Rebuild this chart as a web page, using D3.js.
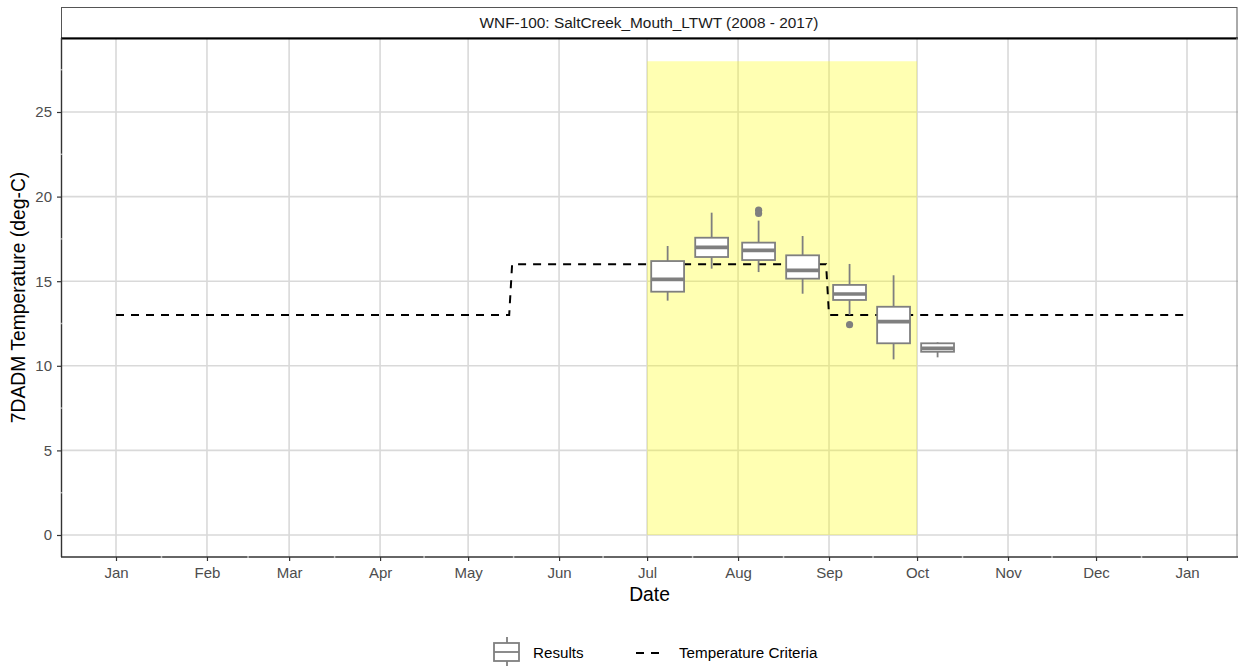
<!DOCTYPE html>
<html>
<head>
<meta charset="utf-8">
<script src="https://cdn.jsdelivr.net/npm/d3@7"></script>
<style>
  body { margin: 0; background: #fff; }
  text { font-family: "Liberation Sans", Arial, sans-serif; }
</style>
</head>
<body>
<div id="chart"></div>
<script>
// box groups (half-month periods), values in deg-C
const boxDates = ["2017-07-08", "2017-07-23", "2017-08-08", "2017-08-23", "2017-09-08", "2017-09-23", "2017-10-08"];
const whiskerLow = [13.85, 15.74, 15.54, 14.26, 13.0, 10.38, 10.5];
const q1 = [14.38, 16.43, 16.25, 15.15, 13.89, 11.33, 10.83];
const median = [15.11, 17.0, 16.82, 15.64, 14.24, 12.61, 11.03];
const q3 = [16.19, 17.57, 17.28, 16.53, 14.78, 13.49, 11.33];
const whiskerHigh = [17.08, 19.05, 18.58, 17.67, 16.02, 15.35, 11.39];
const outliers = [[], [], [19.0, 19.2], [], [12.43], [], []];

// temperature criteria step line
const criteriaDates = ["2017-01-01", "2017-05-15", "2017-05-16", "2017-08-31", "2017-09-01", "2017-12-31"];
const criteriaValues = [13, 13, 16, 16, 13, 13];

// spawning window highlight
const windowDates = ["2017-07-01", "2017-10-01"];
const windowValues = [0, 28];

const yTicks = [0, 5, 10, 15, 20, 25];
const stripTitle = "WNF-100: SaltCreek_Mouth_LTWT (2008 - 2017)";

const width = 1238, height = 667;
const panel = {left: 61, right: 1238, top: 38, bottom: 557};
const parse = d3.utcParse("%Y-%m-%d");
const DAY = 864e5;

const x = d3.scaleUtc()
  .domain([parse("2017-01-01"), parse("2018-01-01")])
  .range([116, 1187]);
const y = d3.scaleLinear()
  .domain([0, 25])
  .range([535, 112]);

const svg = d3.select("#chart").append("svg")
  .attr("width", width)
  .attr("height", height);

svg.append("defs").append("clipPath").attr("id", "clip")
  .append("rect")
  .attr("x", panel.left).attr("y", panel.top)
  .attr("width", panel.right - panel.left).attr("height", panel.bottom - panel.top);

const g = svg.append("g").attr("clip-path", "url(#clip)");

// major gridlines
const monthTicks = d3.utcMonth.range(parse("2017-01-01"), parse("2018-01-02"));
g.append("g").selectAll("line.vgrid").data(monthTicks).join("line")
  .attr("x1", d => x(d)).attr("x2", d => x(d))
  .attr("y1", panel.top).attr("y2", panel.bottom)
  .attr("stroke", "#d9d9d9").attr("stroke-width", 1.6);
g.append("g").selectAll("line.hgrid").data(yTicks).join("line")
  .attr("x1", panel.left).attr("x2", panel.right)
  .attr("y1", d => y(d)).attr("y2", d => y(d))
  .attr("stroke", "#d9d9d9").attr("stroke-width", 1.6);

// yellow window
g.append("rect")
  .attr("x", x(parse(windowDates[0])))
  .attr("width", x(parse(windowDates[1])) - x(parse(windowDates[0])))
  .attr("y", y(windowValues[1]))
  .attr("height", y(windowValues[0]) - y(windowValues[1]))
  .attr("fill", "yellow").attr("fill-opacity", 0.3);

// criteria line
const line = d3.line()
  .x((d, i) => x(parse(criteriaDates[i])))
  .y(d => y(d));
g.append("path")
  .attr("d", line(criteriaValues))
  .attr("fill", "none")
  .attr("stroke", "#000")
  .attr("stroke-width", 2)
  .attr("stroke-dasharray", "8,7");

// boxplots
const boxHalf = 5.6 * DAY;
const boxColor = "#7f7f7f";
const boxes = g.append("g").selectAll("g.box").data(boxDates).join("g");
boxes.append("line")
  .attr("x1", d => x(parse(d))).attr("x2", d => x(parse(d)))
  .attr("y1", (d, i) => y(whiskerHigh[i])).attr("y2", (d, i) => y(q3[i]))
  .attr("stroke", boxColor).attr("stroke-width", 1.8);
boxes.append("line")
  .attr("x1", d => x(parse(d))).attr("x2", d => x(parse(d)))
  .attr("y1", (d, i) => y(q1[i])).attr("y2", (d, i) => y(whiskerLow[i]))
  .attr("stroke", boxColor).attr("stroke-width", 1.8);
boxes.append("rect")
  .attr("x", d => x(new Date(+parse(d) - boxHalf)))
  .attr("width", d => x(new Date(+parse(d) + boxHalf)) - x(new Date(+parse(d) - boxHalf)))
  .attr("y", (d, i) => y(q3[i]))
  .attr("height", (d, i) => y(q1[i]) - y(q3[i]))
  .attr("fill", "#fff").attr("stroke", boxColor).attr("stroke-width", 1.8);
boxes.append("line")
  .attr("x1", d => x(new Date(+parse(d) - boxHalf)))
  .attr("x2", d => x(new Date(+parse(d) + boxHalf)))
  .attr("y1", (d, i) => y(median[i])).attr("y2", (d, i) => y(median[i]))
  .attr("stroke", boxColor).attr("stroke-width", 3.6);
boxes.each(function (d, i) {
  d3.select(this).selectAll("circle").data(outliers[i]).join("circle")
    .attr("cx", x(parse(d)))
    .attr("cy", v => y(v))
    .attr("r", 3.6)
    .attr("fill", boxColor);
});

// strip
svg.append("rect")
  .attr("x", panel.left + 0.5).attr("y", 7.5)
  .attr("width", panel.right - panel.left - 1.5).attr("height", panel.top - 7.5)
  .attr("fill", "#fff").attr("stroke", "#555").attr("stroke-width", 1);
svg.append("text")
  .attr("x", 649).attr("y", 28)
  .attr("text-anchor", "middle")
  .attr("font-size", 15.4).attr("fill", "#1a1a1a")
  .text(stripTitle);

// panel borders
svg.append("line")
  .attr("x1", panel.left).attr("x2", panel.right)
  .attr("y1", panel.top + 0.5).attr("y2", panel.top + 0.5)
  .attr("stroke", "#000").attr("stroke-width", 2);
svg.append("line")
  .attr("x1", panel.right - 1).attr("x2", panel.right - 1)
  .attr("y1", panel.top).attr("y2", panel.bottom)
  .attr("stroke", "#999").attr("stroke-width", 1);

// axes
const xAxis = d3.axisBottom(x)
  .tickValues(monthTicks)
  .tickFormat(d3.utcFormat("%b"))
  .tickSize(4).tickPadding(6);
const gx = svg.append("g")
  .attr("transform", `translate(0,${panel.bottom})`)
  .call(xAxis);
gx.select(".domain").remove();
gx.selectAll("line").attr("stroke", "#333").attr("stroke-width", 1.2);
gx.selectAll("text").attr("fill", "#4d4d4d").attr("font-size", 15)
  .attr("font-family", "Liberation Sans, Arial, sans-serif");

const yAxis = d3.axisLeft(y)
  .tickValues(yTicks)
  .tickSize(4).tickPadding(5);
const gy = svg.append("g")
  .attr("transform", `translate(${panel.left},0)`)
  .call(yAxis);
gy.select(".domain").remove();
gy.selectAll("line").attr("stroke", "#333").attr("stroke-width", 1.2);
gy.selectAll("text").attr("fill", "#4d4d4d").attr("font-size", 15)
  .attr("font-family", "Liberation Sans, Arial, sans-serif");

svg.append("line")
  .attr("x1", panel.left).attr("x2", panel.right)
  .attr("y1", panel.bottom).attr("y2", panel.bottom)
  .attr("stroke", "#333").attr("stroke-width", 1.4);
svg.append("line")
  .attr("x1", panel.left + 0.5).attr("x2", panel.left + 0.5)
  .attr("y1", panel.top).attr("y2", panel.bottom)
  .attr("stroke", "#333").attr("stroke-width", 1.4);

// faint breaks where minor gridlines cross the axis lines
const minorX = monthTicks.slice(0, -1).map((d, i) => new Date((+d + +monthTicks[i + 1]) / 2));
svg.append("g").selectAll("line").data(minorX).join("line")
  .attr("x1", d => x(d)).attr("x2", d => x(d))
  .attr("y1", panel.bottom - 1).attr("y2", panel.bottom + 1)
  .attr("stroke", "#fff").attr("stroke-opacity", 0.6).attr("stroke-width", 1.5);
const minorY = [2.5, 7.5, 12.5, 17.5, 22.5, 27.5];
svg.append("g").selectAll("line").data(minorY).join("line")
  .attr("x1", panel.left - 0.5).attr("x2", panel.left + 1.5)
  .attr("y1", d => y(d)).attr("y2", d => y(d))
  .attr("stroke", "#fff").attr("stroke-opacity", 0.6).attr("stroke-width", 1.5);

// axis titles
svg.append("text")
  .attr("x", 649.5).attr("y", 601)
  .attr("text-anchor", "middle").attr("font-size", 19.3).attr("fill", "#000")
  .text("Date");
svg.append("text")
  .attr("transform", `translate(25,${(panel.top + panel.bottom) / 2}) rotate(-90)`)
  .attr("text-anchor", "middle").attr("font-size", 19.3).attr("fill", "#000")
  .text("7DADM Temperature (deg-C)");

// legend
const leg = svg.append("g");
leg.append("line").attr("x1", 507).attr("x2", 507).attr("y1", 637).attr("y2", 666)
  .attr("stroke", boxColor).attr("stroke-width", 1.8);
leg.append("rect").attr("x", 494).attr("y", 643).attr("width", 25).attr("height", 18)
  .attr("fill", "#fff").attr("stroke", boxColor).attr("stroke-width", 1.8);
leg.append("line").attr("x1", 494).attr("x2", 519).attr("y1", 652).attr("y2", 652)
  .attr("stroke", boxColor).attr("stroke-width", 1.8);
leg.append("text").attr("x", 533).attr("y", 658).attr("font-size", 15.2).attr("fill", "#000")
  .text("Results");
leg.append("line").attr("x1", 636).attr("x2", 664).attr("y1", 653).attr("y2", 653)
  .attr("stroke", "#000").attr("stroke-width", 2).attr("stroke-dasharray", "8,7");
leg.append("text").attr("x", 679).attr("y", 658).attr("font-size", 15.2).attr("fill", "#000")
  .text("Temperature Criteria");
</script>
</body>
</html>
